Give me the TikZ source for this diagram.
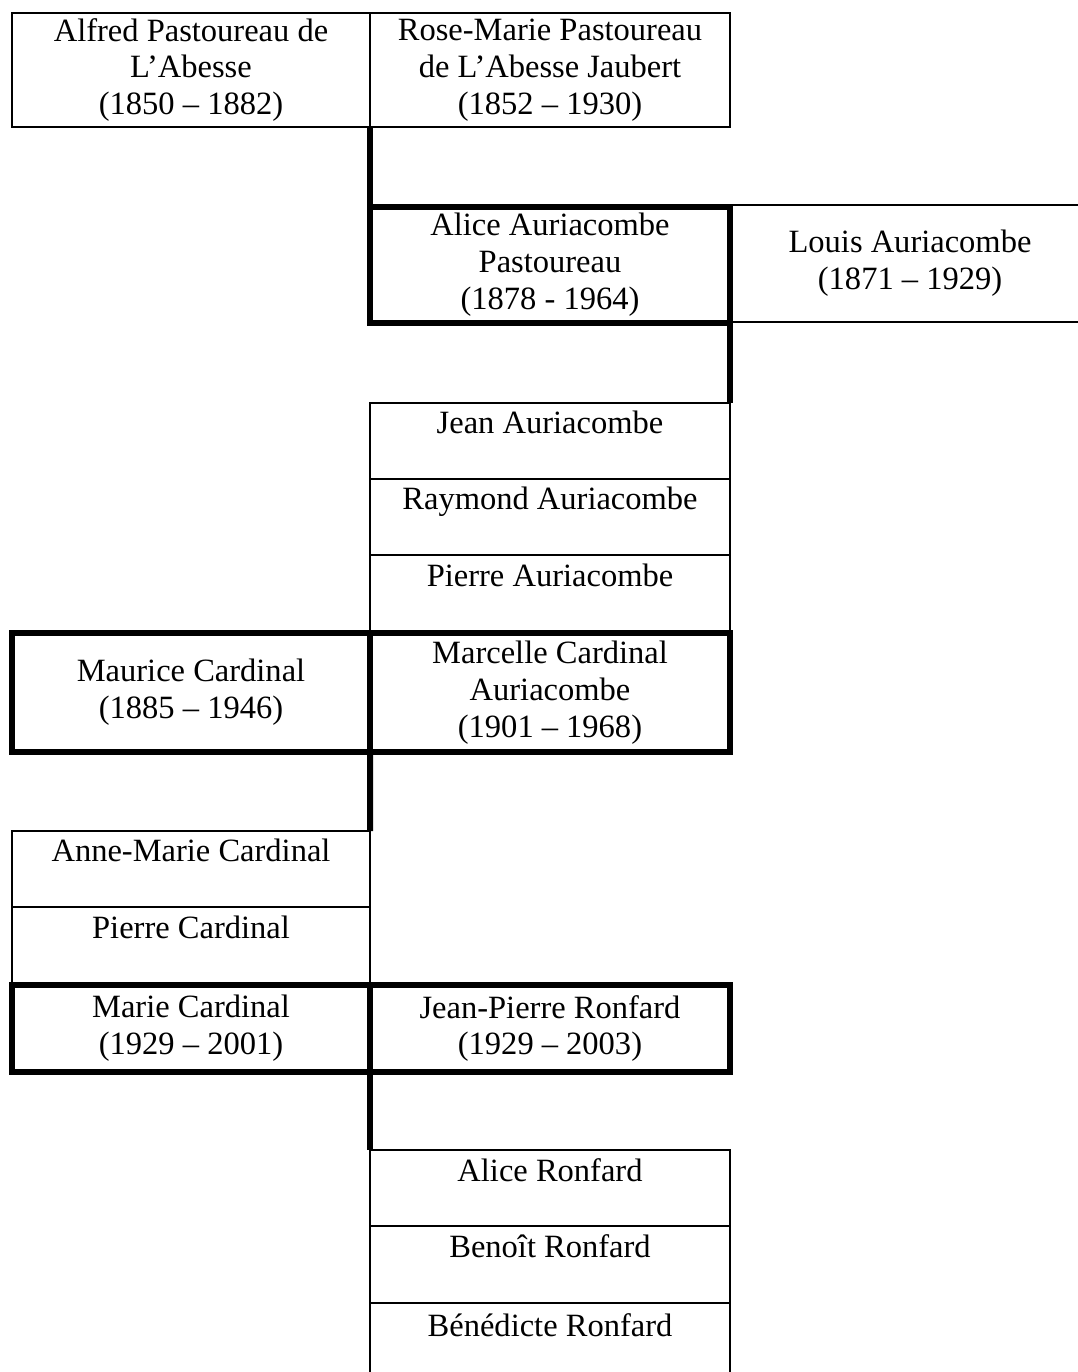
\documentclass[tikz,border=0pt]{standalone}
\usepackage{fontspec}
\setmainfont{Liberation Serif}
\usepackage{tikz}
\tikzset{person/.style={draw, rectangle, line width=0.02cm, inner sep=0pt, outer sep=0pt, anchor=north west, align=center, font=\fontsize{9.25}{10.5}\selectfont},
	couple/.style={person, line width=0.06cm},
	descent/.style={line width=0.06cm}}

\begin{document}
\begin{tikzpicture}
\useasboundingbox (0,0) rectangle (10.78,-13.72);
\clip (0,0) rectangle (10.78,-13.72);

% First generation
\node[person, minimum width=3.58cm, minimum height=1.14cm] (alfred) at (0.12,-0.13) {Alfred Pastoureau de\\L'Abesse\\(1850 -- 1882)};
\node[person, minimum width=3.60cm, minimum height=1.14cm] (rosemarie) at (3.70,-0.13) {Rose-Marie Pastoureau\\de L'Abesse Jaubert\\(1852 -- 1930)};

% Second generation
\node[person, minimum width=3.60cm, minimum height=1.17cm] (louis) at (7.30,-2.05) {Louis Auriacombe\\(1871 -- 1929)};
\node[couple, minimum width=3.60cm, minimum height=1.16cm] (alice) at (3.70,-2.07) {Alice Auriacombe\\Pastoureau\\(1878 - 1964)};

% Third generation
\node[person, minimum width=3.60cm, minimum height=0.76cm] (jean) at (3.70,-4.03) {Jean Auriacombe\\~};
\node[person, minimum width=3.60cm, minimum height=0.76cm] (raymond) at (3.70,-4.79) {Raymond Auriacombe\\~};
\node[person, minimum width=3.60cm, minimum height=0.78cm] (pierre) at (3.70,-5.55) {Pierre Auriacombe\\~};
\node[couple, minimum width=3.58cm, minimum height=1.19cm] (maurice) at (0.12,-6.33) {Maurice Cardinal\\(1885 -- 1946)};
\node[couple, minimum width=3.60cm, minimum height=1.19cm] (marcelle) at (3.70,-6.33) {Marcelle Cardinal\\Auriacombe\\(1901 -- 1968)};

% Fourth generation
\node[person, minimum width=3.58cm, minimum height=0.76cm] (annemarie) at (0.12,-8.31) {Anne-Marie Cardinal\\~};
\node[person, minimum width=3.58cm, minimum height=0.78cm] (pierrec) at (0.12,-9.07) {Pierre Cardinal\\~};
\node[couple, minimum width=3.58cm, minimum height=0.87cm] (marie) at (0.12,-9.85) {Marie Cardinal\\(1929 -- 2001)};
\node[couple, minimum width=3.60cm, minimum height=0.87cm] (jeanpierre) at (3.70,-9.85) {Jean-Pierre Ronfard\\(1929 -- 2003)};

% Fifth generation
\node[person, minimum width=3.60cm, minimum height=0.76cm] (aliceR) at (3.70,-11.50) {Alice Ronfard\\~};
\node[person, minimum width=3.60cm, minimum height=0.77cm] (benoit) at (3.70,-12.26) {Beno\^it Ronfard\\~};
\node[person, minimum width=3.60cm, minimum height=0.80cm] (benedicte) at (3.70,-13.03) {B\'en\'edicte Ronfard\\~};

% Descent lines
\draw[descent] (rosemarie.south west) -- (alice.north west);
\draw[descent] (alice.south east) -- (jean.north east);
\draw[descent] (marcelle.south west) -- (annemarie.north east);
\draw[descent] (jeanpierre.south west) -- (aliceR.north west);
\end{tikzpicture}
\end{document}
